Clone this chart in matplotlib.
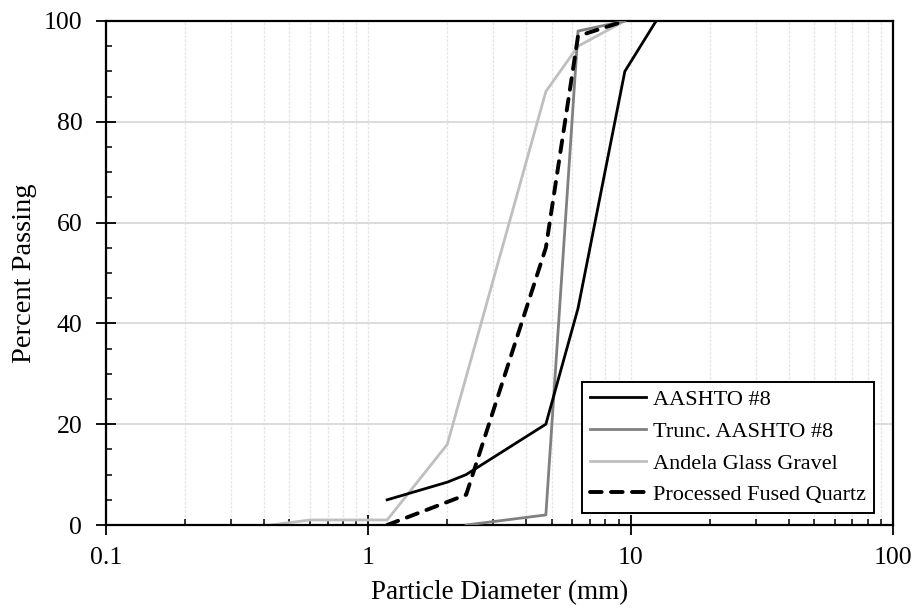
import numpy as np
import matplotlib
matplotlib.use('Agg')
import matplotlib.pyplot as plt
from matplotlib.ticker import FixedLocator, FixedFormatter, LogLocator, MultipleLocator, NullFormatter

plt.rcParams['font.family'] = ['Liberation Serif', 'DejaVu Serif']

# Curvas granulométricas (tamiz en mm, % que pasa)
aashto8_d = [1.18, 2.0, 2.36, 4.75, 6.3, 9.5, 12.5]
aashto8_p = [5, 8.5, 10, 20, 43, 90, 100]

trunc_d = [2.36, 4.75, 6.3, 9.5]
trunc_p = [0, 2, 98, 100]

andela_d = [0.425, 0.6, 1.18, 2.0, 4.75, 6.3, 9.5]
andela_p = [0, 1, 1, 16, 86, 95, 100]

quartz_d = [1.18, 2.36, 4.75, 6.3, 9.5]
quartz_p = [0, 6, 55, 97, 100]

x_ticks = [0.1, 1, 10, 100]
x_labels = ['0.1', '1', '10', '100']

fig = plt.figure(figsize=(9.15, 6.08), dpi=100)
ax = fig.add_axes([0.1158, 0.1365, 0.8602, 0.829])

ax.plot(aashto8_d, aashto8_p, color='black', lw=2.0, label='AASHTO #8', zorder=4)
ax.plot(trunc_d, trunc_p, color='#808080', lw=2.0, label='Trunc. AASHTO #8', zorder=3)
ax.plot(andela_d, andela_p, color='#bfbfbf', lw=2.0, label='Andela Glass Gravel', zorder=2)
ax.plot(quartz_d, quartz_p, color='black', lw=2.8, ls=(0, (3.0, 2.4)),
        dash_capstyle='round', label='Processed Fused Quartz', zorder=5)

ax.set_xscale('log')
ax.set_xlim(0.1, 100)
ax.set_ylim(0, 100)

ax.xaxis.set_major_locator(FixedLocator(x_ticks))
ax.xaxis.set_major_formatter(FixedFormatter(x_labels))
ax.xaxis.set_minor_locator(LogLocator(base=10, subs=np.arange(2, 10)))
ax.xaxis.set_minor_formatter(NullFormatter())
ax.yaxis.set_major_locator(MultipleLocator(20))
ax.yaxis.set_minor_locator(MultipleLocator(5))

ax.tick_params(which='major', direction='inout', length=14, width=1.3, labelsize=18.5)
ax.tick_params(which='minor', direction='in', length=4, width=1.1)
ax.tick_params(axis='x', which='major', pad=9)
ax.tick_params(axis='y', which='major', pad=10)

ax.grid(True, which='major', axis='y', color='#d9d9d9', lw=1.3)
ax.grid(True, which='both', axis='x', color='#e6e6e6', lw=1.0, ls=(0, (2, 1)))
ax.set_axisbelow(True)

for s in ax.spines.values():
    s.set_linewidth(1.6)
    s.set_color('black')

ax.set_xlabel('Particle Diameter (mm)', fontsize=19.5, labelpad=8)
ax.set_ylabel('Percent Passing', fontsize=20.5, labelpad=5)

leg = ax.legend(loc='lower right', bbox_to_anchor=(0.9759, 0.0238), fontsize=16,
                frameon=True, fancybox=False, framealpha=1, edgecolor='black',
                handlelength=2.5, handletextpad=0.35, labelspacing=0.5, borderpad=0.35,
                borderaxespad=0)
leg.get_frame().set_linewidth(1.4)

fig.savefig('out.png', dpi=100)
